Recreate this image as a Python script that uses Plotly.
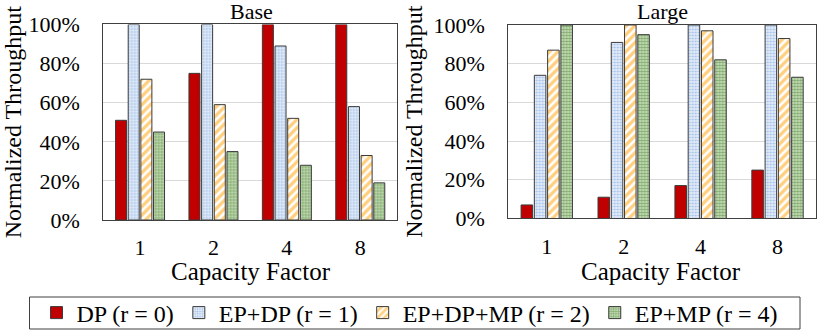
import plotly.graph_objects as go
from plotly.subplots import make_subplots

factors = ["1", "2", "4", "8"]
series = ["DP (r = 0)", "EP+DP (r = 1)", "EP+DP+MP (r = 2)", "EP+MP (r = 4)"]

# normalized throughput (fraction)
base_dp = [0.51, 0.75, 1.00, 1.00]
base_ep_dp = [1.00, 1.00, 0.89, 0.58]
base_ep_dp_mp = [0.72, 0.59, 0.52, 0.33]
base_ep_mp = [0.45, 0.35, 0.28, 0.19]

large_dp = [0.07, 0.11, 0.17, 0.25]
large_ep_dp = [0.74, 0.91, 1.00, 1.00]
large_ep_dp_mp = [0.87, 1.00, 0.97, 0.93]
large_ep_mp = [1.00, 0.95, 0.82, 0.73]

FONT = "Liberation Serif"
W, H = 830, 331

# solid red, blue dots, orange stripes, green dots
styles = [
    dict(color="#C00000", pattern=dict(shape="")),
    dict(color="#e6eef9", pattern=dict(shape=".", fgcolor="#5a8edb", size=3, solidity=0.4)),
    dict(color="white", pattern=dict(shape="/", fgcolor="#FFA000", size=6, solidity=0.55)),
    dict(color="#d3e6c6", pattern=dict(shape=".", fgcolor="#2f6e14", size=3, solidity=0.55)),
]

fig = make_subplots(rows=1, cols=2)

panels = [
    (1, [base_dp, base_ep_dp, base_ep_dp_mp, base_ep_mp]),
    (2, [large_dp, large_ep_dp, large_ep_dp_mp, large_ep_mp]),
]
for col, values in panels:
    for i, (name, vals) in enumerate(zip(series, values)):
        st = styles[i]
        fig.add_trace(go.Bar(
            x=factors, y=vals, name=name, legendgroup=name,
            showlegend=(col == 1),
            marker=dict(color=st["color"], pattern=st["pattern"],
                        line=dict(color="#3a3a3a", width=1)),
        ), row=1, col=col)

axis_common = dict(showline=True, mirror=True, linecolor="#404040", linewidth=1,
                   automargin=False, tickfont=dict(family=FONT, size=22, color="black"))

fig.update_xaxes(**axis_common, ticks="", ticklabelstandoff=8)
fig.update_yaxes(**axis_common, range=[0, 1], dtick=0.2, tickformat=".0%",
                 showgrid=True, gridcolor="#d9d9d9", gridwidth=1, ticks="",
                 ticklabelstandoff=18,
                 title=dict(text="Normalized Throughput", font=dict(family=FONT, size=24, color="black"),
                            standoff=4))


def px_y(y):
    return 1 - y / H


text_font = dict(family=FONT, size=22, color="black")
title_font = dict(family=FONT, size=25, color="black")
annotations = [
    dict(text="Base", x=0.303, y=px_y(11), yanchor="middle", font=text_font),
    dict(text="Large", x=0.798, y=px_y(11), yanchor="middle", font=text_font),
    dict(text="Capacity Factor", x=0.302, y=px_y(271), yanchor="middle", font=title_font),
    dict(text="Capacity Factor", x=0.796, y=px_y(271), yanchor="middle", font=title_font),
]
for a in annotations:
    a.update(xref="paper", yref="paper", xanchor="center", showarrow=False)

fig.update_layout(
    xaxis=dict(domain=[0.1245, 0.4783]),
    xaxis2=dict(domain=[0.6124, 0.9831]),
    yaxis=dict(domain=[0.3353, 0.926]),
    yaxis2=dict(domain=[0.3399, 0.9245]),
    barmode="group", bargap=0.31, bargroupgap=0.13,
    width=W, height=H,
    margin=dict(l=0, r=0, t=0, b=0, autoexpand=False),
    plot_bgcolor="white", paper_bgcolor="white",
    font=dict(family=FONT, size=22, color="black"),
    legend=dict(orientation="h", x=0.494, xanchor="center", y=px_y(313), yanchor="middle",
                borderwidth=0, bgcolor="rgba(0,0,0,0)",
                font=dict(family=FONT, size=24, color="black")),
    # legend frame drawn to the reference's size
    shapes=[dict(type="rect", xref="paper", yref="paper",
                 x0=29.5 / W, x1=800 / W, y0=px_y(329), y1=px_y(297),
                 line=dict(color="#404040", width=1))],
    annotations=annotations,
)

# the page body has an 8px default margin; drop it so the figure fills the window
fig.write_html("out.html", config={"displayModeBar": False},
               post_script="document.body.style.margin='0';")
